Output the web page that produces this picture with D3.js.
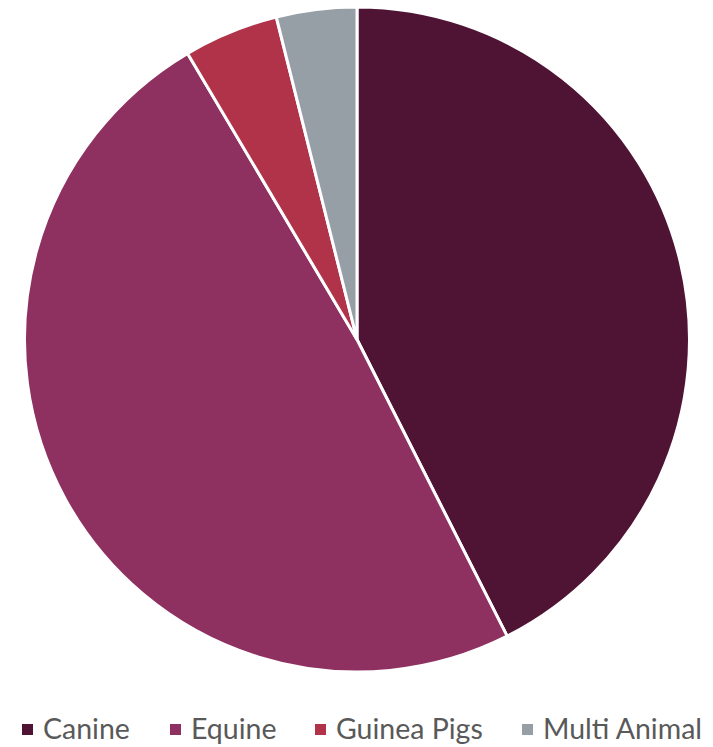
<!DOCTYPE html>
<html>
<head>
<meta charset="utf-8">
<script src="https://cdn.jsdelivr.net/npm/d3@7"></script>
<style>
  body { margin: 0; background: #fff; }
</style>
</head>
<body>
<div id="chart"></div>
<script>
var categories = ["Canine", "Equine", "Guinea Pigs", "Multi Animal"];
var shares = [42.5, 48.9, 4.6, 3.9];
var colors = ["#4f1434", "#8e3060", "#b0334a", "#969ea6"];

var width = 713, height = 747;
var cx = 357, cy = 339.5, radius = 332.5;

var svg = d3.select("#chart").append("svg")
  .attr("width", width)
  .attr("height", height);

var data = categories.map(function(c, i) { return {name: c, value: shares[i], color: colors[i]}; });

var pie = d3.pie().sort(null).value(function(d) { return d.value; });
var arc = d3.arc().innerRadius(0).outerRadius(radius);

svg.append("g")
  .attr("transform", "translate(" + cx + "," + cy + ")")
  .selectAll("path")
  .data(pie(data))
  .enter().append("path")
  .attr("d", arc)
  .attr("fill", function(d) { return d.data.color; })
  .attr("stroke", "#fff")
  .attr("stroke-width", 3)
  .attr("stroke-linejoin", "round");

// legend - square x positions, text follows each square
var legendX = [22, 170, 315, 522];
var legend = svg.append("g").attr("class", "legend");
legend.selectAll("g").data(data)
  .enter().append("g")
  .each(function(d, i) {
    var g = d3.select(this);
    g.append("rect")
      .attr("x", legendX[i])
      .attr("y", 724)
      .attr("width", 11)
      .attr("height", 11)
      .attr("fill", d.color);
    g.append("text")
      .attr("x", legendX[i] + 21)
      .attr("y", 739)
      .attr("font-family", "Lato, sans-serif")
      .attr("font-size", 28.5)
      .attr("fill", "#595959")
      .text(d.name);
  });
</script>
</body>
</html>
